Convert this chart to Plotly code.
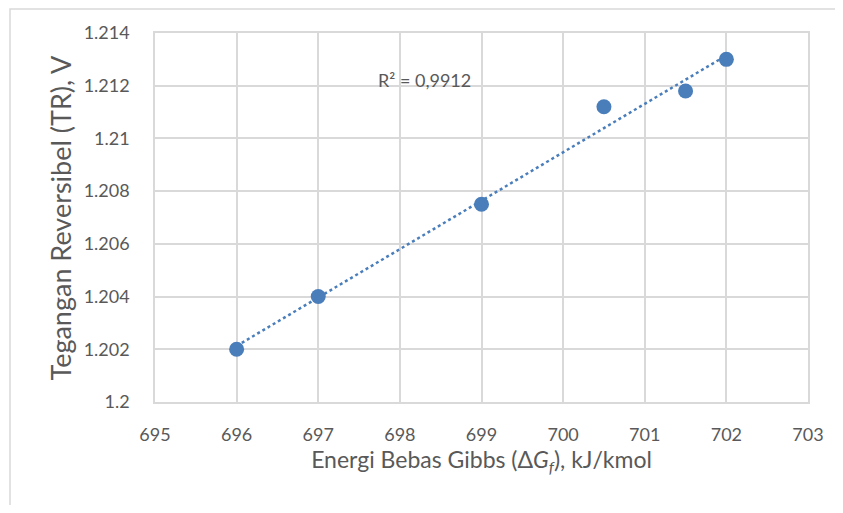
import numpy as np
import plotly.graph_objects as go

energi = [696, 697, 699, 700.5, 701.5, 702]
tegangan = [1.202, 1.204, 1.2075, 1.2112, 1.2118, 1.213]
x_ticks = [695, 696, 697, 698, 699, 700, 701, 702, 703]
y_ticks = [1.2, 1.202, 1.204, 1.206, 1.208, 1.21, 1.212, 1.214]
y_tick_text = ["1.2", "1.202", "1.204", "1.206", "1.208", "1.21", "1.212", "1.214"]
r2_text = "R² = 0,9912"
y_title = "Tegangan Reversibel (TR), V"
x_title = "Energi Bebas Gibbs (Δ<i>G</i><sub><i>f</i></sub>), kJ/kmol"

xa = np.array(energi)
ya = np.array(tegangan)
m, c = np.polyfit(xa, ya, 1)
tx = np.array([min(energi), max(energi)])
ty = m * tx + c

blue = "#4a7ebb"
txt = "#595959"
font = "Lato"

fig = go.Figure()
fig.add_trace(go.Scatter(x=tx, y=ty, mode="lines",
                         line=dict(color=blue, width=2.5, dash="dot"),
                         hoverinfo="skip", showlegend=False))
fig.add_trace(go.Scatter(x=energi, y=tegangan, mode="markers",
                         marker=dict(color=blue, size=15),
                         showlegend=False))

fig.add_annotation(x=698.3, y=1.21223, text=r2_text, showarrow=False,
                   font=dict(family=font, size=18, color=txt))

# page body has an 8px margin; figure coordinates are offset by 8
OFF = 8
W, H = 827, 497
l, t = 155 - OFF, 33 - OFF
r = W - (808 - OFF)
b = H - (402 - OFF)
pw, ph = W - l - r, H - t - b

fig.add_annotation(xref="paper", yref="paper", x=(60 - 155) / pw, y=0.5,
                   xanchor="center", yanchor="middle", textangle=-90,
                   text=y_title, showarrow=False,
                   font=dict(family=font, size=27, color=txt))

fig.add_shape(type="rect", xref="paper", yref="paper",
              x0=(10 - OFF - l) / pw, x1=(W + 20 - l) / pw,
              y0=(H - b - (H + 20)) / ph, y1=(H - b - 1) / ph,
              line=dict(color="#d9d9d9", width=1.5), fillcolor="rgba(0,0,0,0)",
              layer="below")

fig.update_layout(
    width=W, height=H,
    margin=dict(l=l, r=r, t=t, b=b),
    paper_bgcolor="white", plot_bgcolor="white",
    font=dict(family=font, color=txt),
    xaxis=dict(range=[695, 703], tickvals=x_ticks, showgrid=True,
               gridcolor="#d9d9d9", gridwidth=1.5, zeroline=False,
               showline=True, linecolor="#d9d9d9", linewidth=1.5, mirror=True,
               ticks="", tickfont=dict(size=18, color=txt), ticklabelstandoff=16,
               title=dict(text=x_title, font=dict(size=23, color=txt), standoff=8)),
    yaxis=dict(range=[1.2, 1.214], tickvals=y_ticks, ticktext=y_tick_text,
               showgrid=True, gridcolor="#d9d9d9", gridwidth=1.5, zeroline=False,
               showline=True, linecolor="#d9d9d9", linewidth=1.5, mirror=True,
               ticks="", tickfont=dict(size=18, color=txt), ticklabelstandoff=20,
               automargin=False),
)

fig.write_html("out.html")
